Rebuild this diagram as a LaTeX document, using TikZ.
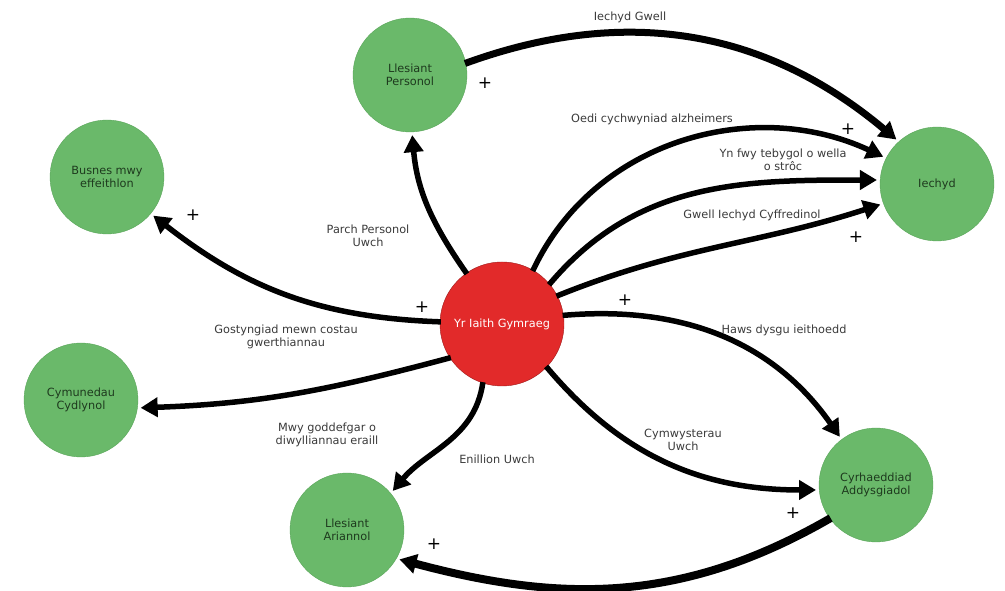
\documentclass[tikz,border=0pt]{standalone}
\usepackage{fontspec}
\setmainfont{DejaVu Sans}
\usetikzlibrary{arrows.meta}
\definecolor{leafgreen}{HTML}{6AB96A}
\definecolor{leafedge}{HTML}{5CA65C}
\definecolor{leaftext}{HTML}{1E3A1E}
\definecolor{corered}{HTML}{E22A2A}
\definecolor{coreedge}{HTML}{9E1C1C}
\definecolor{annottext}{HTML}{3A3A3A}
\begin{document}
\begin{tikzpicture}[x=1pt,y=1pt,>={Triangle[length=17pt,width=19pt]}]
	\useasboundingbox (0,0) rectangle (1005,591);
	\fontsize{11.3}{13.2}\selectfont
	\def \gsize{114pt}
	\def \rsize{124pt}

	\tikzstyle{g-node}=[circle,draw=leafedge,fill=leafgreen,text=leaftext,align=center,inner sep=2pt,minimum size=\gsize]
	\tikzstyle{r-node}=[circle,draw=coreedge,fill=corered,text=white,align=center,inner sep=2pt,minimum size=\rsize]
	\tikzstyle{annot}=[text=annottext,align=center,inner sep=1pt]
	\tikzstyle{sign}=[font=\fontsize{17}{17}\selectfont,inner sep=0pt]
	\tikzstyle{flow}=[->,line width=5.5pt,shorten >=3pt,shorten <=-1pt]

	% circles
	\node[r-node] (iaith)    at (502,267) {Yr Iaith Gymraeg};
	\node[g-node] (personol) at (410,516) {Llesiant\\Personol};
	\node[g-node] (iechyd)   at (937,407) {Iechyd};
	\node[g-node] (busnes)   at (107,414) {Busnes mwy\\effeithlon};
	\node[g-node] (cymuned)  at (81,191)  {Cymunedau\\Cydlynol};
	\node[g-node] (ariannol) at (347,61)  {Llesiant\\Ariannol};
	\node[g-node] (cyrhaedd) at (876,106) {Cyrhaeddiad\\Addysgiadol};

	% labels
	\node[annot] (l-gwell)   at (630,574) {Iechyd Gwell};
	\node[annot] (l-alz)     at (652,472) {Oedi cychwyniad alzheimers};
	\node[annot] (l-stroc)   at (783,431) {Yn fwy tebygol o wella\\o strôc};
	\node[annot] (l-cyff)    at (752,376) {Gwell Iechyd Cyffredinol};
	\node[annot] (l-parch)   at (368,355) {Parch Personol\\Uwch};
	\node[annot] (l-costau)  at (286,254) {Gostyngiad mewn costau\\gwerthiannau};
	\node[annot] (l-goddef)  at (327,156) {Mwy goddefgar o\\diwylliannau eraill};
	\node[annot] (l-enill)   at (497,132) {Enillion Uwch};
	\node[annot] (l-cymwys)  at (683,151) {Cymwysterau\\Uwch};
	\node[annot] (l-haws)    at (784,261) {Haws dysgu ieithoedd};

	% signs
	\node[sign] (p1) at (485,508) {+};
	\node[sign] (p2) at (848,462) {+};
	\node[sign] (p3) at (856,354) {+};
	\node[sign] (p4) at (625,291) {+};
	\node[sign] (p5) at (193,376) {+};
	\node[sign] (p6) at (422,284) {+};
	\node[sign] (p7) at (793,78)  {+};
	\node[sign] (p8) at (434,47)  {+};

	\draw[flow] (iaith.125) to[out=125,in=-85] (personol.-88);
	\draw[flow] (iaith.178) to[out=178,in=-38] (busnes.-40);
	\draw[flow] (iaith.213) to[out=195,in=2] (cymuned.-8);
	\draw[flow] (iaith.252) to[out=262,in=50] (ariannol.40);
	\draw[flow] (iaith.-44) to[out=-50,in=180] (cyrhaedd.185);
	\draw[flow] (iaith.8) to[out=5,in=125] (cyrhaedd.127);
	\draw[flow] (iaith.27) to[out=22,in=198] (iechyd.200);
	\draw[flow] (iaith.40) to[out=50,in=180] (iechyd.176);
	\draw[flow] (iaith.60) to[out=65,in=155] (iechyd.153);
	\draw[flow,line width=7pt] (personol.12) to[out=20,in=140] (iechyd.132);
	\draw[flow,line width=8pt] (cyrhaedd.216) to[out=210,in=-15] (ariannol.-30);
\end{tikzpicture}
\end{document}
